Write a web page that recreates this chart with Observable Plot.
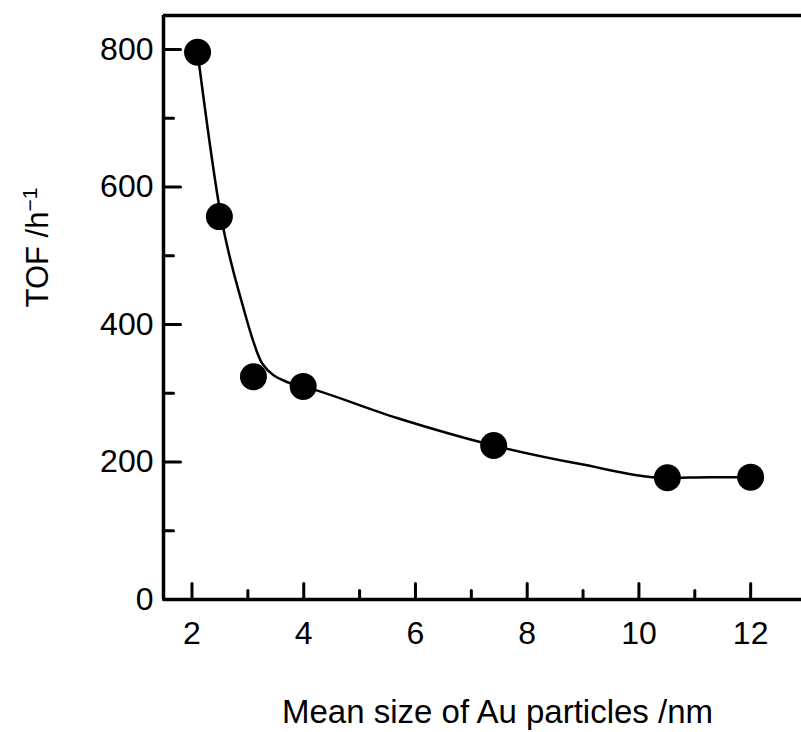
<!DOCTYPE html>
<html><head><meta charset="utf-8">
<script src="https://cdn.jsdelivr.net/npm/d3@7"></script>
<script src="https://cdn.jsdelivr.net/npm/@observablehq/plot@0.6"></script>
<style>body{margin:0;background:#fff} svg{display:block}</style>
</head><body><div id="chart"></div>
<script>
// measured points
const sizes = [2.10, 2.49, 3.10, 3.99, 7.40, 10.51, 12.0];
const tof = [796, 557, 324, 310, 224, 177, 178];
// fitted guide curve
const fitSizes = [2.10, 2.52, 2.90, 3.26, 3.71, 3.99, 5.67, 7.40, 8.95, 10.51, 11.28, 12.0];
const fitTof = [796, 557, 430, 343, 316, 310, 264, 224, 197, 177, 178, 178];
const xMajor = [2, 4, 6, 8, 10, 12];
const xMinor = [3, 5, 7, 9, 11];
const yMajor = [0, 200, 400, 600, 800];
const yMinor = [100, 300, 500, 700];
const xDomain = [1.49, 12.91];
const yDomain = [0, 849.5];
const xLabel = "Mean size of Au particles /nm";
const yLabelMain = "TOF /h";
const yLabelSup = "\u22121";

const points = sizes.map((s, i) => ({size: s, tof: tof[i]}));
const fit = fitSizes.map((s, i) => ({size: s, tof: fitTof[i]}));

// inward tick shape: straight segment from the axis into the frame
const tickShape = {draw(context, l) { context.moveTo(0, 0); context.lineTo(0, -l); }};
const tickX = (values, len) => Plot.vector(values, {x: d => d, y: yDomain[0], length: len, rotate: 0, anchor: "start", shape: tickShape, stroke: "#000", strokeWidth: 3});
const tickY = (values, len) => Plot.vector(values, {x: xDomain[0], y: d => d, length: len, rotate: 90, anchor: "start", shape: tickShape, stroke: "#000", strokeWidth: 3});

const font = "'Liberation Sans', Arial, Helvetica, sans-serif";
const chart = Plot.plot({
  width: 801, height: 732,
  marginLeft: 163, marginTop: 15, marginBottom: 133, marginRight: 0,
  x: {domain: xDomain},
  y: {domain: yDomain},
  style: {fontFamily: font, fontSize: "32px", color: "#000", background: "#fff", overflow: "visible"},
  marks: [
    Plot.axisX(xMajor, {tickSize: 0, tickPadding: 22, fontSize: 32, label: null}),
    Plot.axisY(yMajor, {tickSize: 0, tickPadding: 10, fontSize: 32, label: null}),
    tickX(xMajor, 16),
    tickX(xMinor, 9),
    tickY(yMajor, 17),
    tickY(yMinor, 10),
    Plot.ruleX([xDomain[0]], {stroke: "#000", strokeWidth: 3.5}),
    Plot.ruleY([yDomain[0], yDomain[1]], {stroke: "#000", strokeWidth: 3.5}),
    Plot.line(fit, {x: "size", y: "tof", curve: "monotone-x", stroke: "#000", strokeWidth: 2.5}),
    Plot.dot(points, {x: "size", y: "tof", r: 13.5, fill: "#000", stroke: null}),
    Plot.text([xLabel], {frameAnchor: "bottom", dx: 15, dy: 100, lineAnchor: "top", fontSize: 33, fill: "#000"}),
    Plot.text([yLabelMain], {frameAnchor: "left", dx: -125, rotate: -90, fontSize: 31, fill: "#000"})
  ]
});
document.getElementById("chart").appendChild(chart);
d3.select(chart).selectAll("text").filter(function() { return this.textContent === yLabelMain; })
  .append("tspan").attr("baseline-shift", "super").attr("font-size", 21).text(yLabelSup);
</script>
</body></html>
